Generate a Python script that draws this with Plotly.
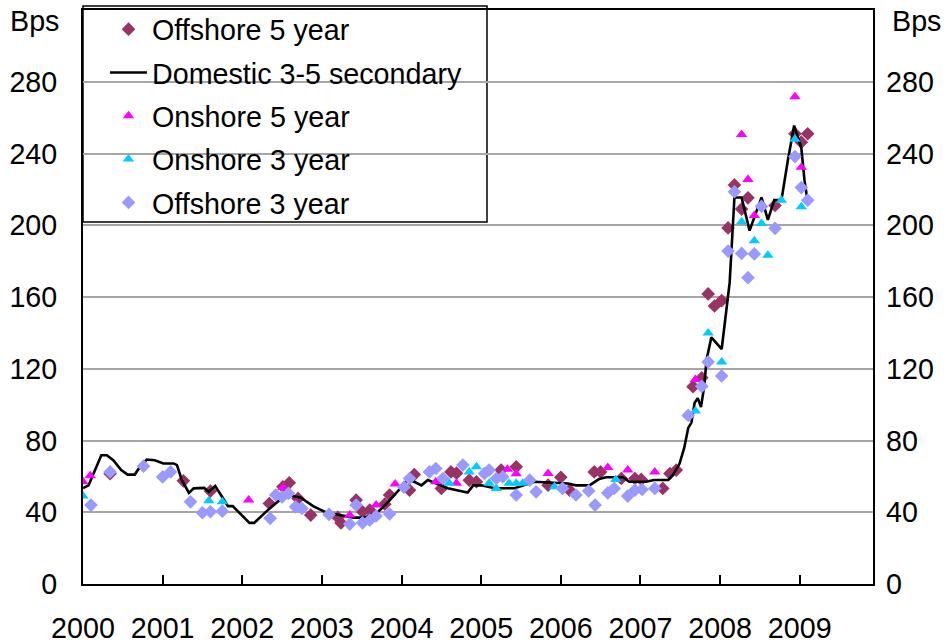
import plotly.graph_objects as go

# Spreads in basis points; x positions are decimal years
off5_x = [2000.34, 2001.26, 2001.60, 2002.34, 2002.51, 2002.59, 2002.70, 2002.86,
          2003.20, 2003.24, 2003.43, 2003.51, 2003.60, 2003.79, 2003.85, 2004.10,
          2004.16, 2004.50, 2004.62, 2004.69, 2004.85, 2004.94, 2005.25, 2005.44,
          2005.84, 2006.00, 2006.11, 2006.42, 2006.50, 2006.76, 2006.93, 2007.01,
          2007.28, 2007.37, 2007.45, 2007.66, 2007.77, 2007.85, 2007.93, 2008.02,
          2008.10, 2008.18, 2008.27, 2008.35, 2008.69, 2008.94, 2009.02, 2009.10]
off5_y = [61.5, 57.5, 51.8, 44.9, 54.2, 56.4, 47.7, 38.4,
          37.1, 34.0, 46.8, 40.3, 41.2, 44.5, 49.6, 52.3,
          61.0, 53.3, 62.5, 61.8, 57.9, 57.0, 63.5, 65.3,
          55.1, 59.5, 52.3, 62.5, 62.5, 58.8, 58.8, 58.3,
          53.3, 61.6, 63.5, 110.0, 115.0, 161.7, 155.0, 158.0,
          198.5, 222.5, 209.0, 215.3, 211.0, 251.0, 246.3, 251.0]

dom_x = [2000.00, 2000.07, 2000.23, 2000.30, 2000.38, 2000.48, 2000.56, 2000.65,
         2000.71, 2000.80, 2000.90, 2001.01, 2001.14, 2001.18, 2001.24, 2001.33,
         2001.39, 2001.52, 2001.58, 2001.66, 2001.76, 2001.82, 2001.88, 2001.99,
         2002.09, 2002.15, 2002.22, 2002.32, 2002.47, 2002.56, 2002.73, 2002.89,
         2003.06, 2003.40, 2003.53, 2003.70, 2003.83, 2003.96, 2004.08, 2004.16,
         2004.25, 2004.33, 2004.58, 2004.83, 2004.90, 2005.00, 2005.17, 2005.42,
         2005.67, 2006.09, 2006.19, 2006.36, 2006.48, 2006.57, 2006.78, 2006.86,
         2007.07, 2007.17, 2007.35, 2007.41, 2007.49, 2007.55, 2007.60, 2007.64,
         2007.68, 2007.72, 2007.76, 2007.80, 2007.83, 2007.89, 2008.02, 2008.12,
         2008.18, 2008.27, 2008.37, 2008.52, 2008.60, 2008.68, 2008.77, 2008.85,
         2008.93, 2009.02, 2009.06, 2009.09]
dom_y = [53.4, 55.0, 71.8, 71.8, 69.0, 63.5, 61.0, 61.0,
         65.0, 69.4, 69.0, 67.2, 67.2, 66.3, 58.0, 50.8,
         53.3, 53.6, 51.4, 54.6, 47.7, 43.4, 43.4, 38.4,
         34.1, 34.1, 37.1, 41.2, 46.8, 49.6, 48.3, 43.4,
         39.7, 37.0, 37.0, 40.0, 45.6, 52.0, 58.0, 57.0,
         55.0, 58.0, 53.4, 51.0, 55.0, 55.0, 53.4, 53.4,
         57.0, 56.0, 55.0, 55.0, 58.5, 59.5, 59.5, 57.0,
         57.0, 58.0, 58.0, 61.0, 67.0, 76.0, 87.0, 90.0,
         101.0, 103.6, 98.6, 110.0, 125.0, 137.5, 131.0, 168.0,
         215.5, 215.5, 197.0, 215.5, 203.0, 214.0, 214.0, 236.0,
         255.6, 243.0, 225.0, 216.0]

on5_x = [2000.00, 2000.09, 2002.08, 2002.51, 2003.35, 2003.68, 2003.92, 2004.43,
         2004.69, 2005.33, 2005.44, 2005.84, 2006.59, 2006.84, 2007.18, 2007.69,
         2008.27, 2008.35, 2008.43, 2008.94, 2009.02]
on5_y = [57.0, 60.3, 46.8, 53.8, 38.4, 44.0, 55.7, 57.0,
         56.1, 64.0, 61.5, 61.6, 65.0, 63.5, 62.5, 114.0,
         250.6, 225.5, 205.5, 271.7, 232.3]

on3_x = [2000.00, 2001.58, 2001.75, 2004.60, 2004.85, 2004.94, 2005.10, 2005.19,
         2005.35, 2005.44, 2005.52, 2005.92, 2006.69, 2007.69, 2007.85, 2008.02,
         2008.27, 2008.43, 2008.52, 2008.60, 2008.77, 2008.94, 2009.02]
on3_y = [49.0, 46.4, 45.8, 56.1, 62.5, 65.3, 56.1, 53.3,
         56.1, 56.1, 56.1, 54.2, 58.3, 96.5, 140.0, 123.8,
         202.0, 191.3, 201.0, 183.3, 214.0, 248.0, 210.3]

off3_x = [2000.10, 2000.34, 2000.76, 2001.00, 2001.10, 2001.35, 2001.50, 2001.60,
          2001.75, 2002.35, 2002.42, 2002.50, 2002.58, 2002.67, 2002.75, 2003.09,
          2003.35, 2003.43, 2003.51, 2003.60, 2003.68, 2003.85, 2004.03, 2004.10,
          2004.35, 2004.43, 2004.52, 2004.77, 2005.04, 2005.10, 2005.19, 2005.27,
          2005.44, 2005.61, 2005.69, 2006.02, 2006.19, 2006.35, 2006.43, 2006.59,
          2006.67, 2006.84, 2006.93, 2007.02, 2007.18, 2007.60, 2007.77, 2007.85,
          2008.02, 2008.10, 2008.18, 2008.27, 2008.35, 2008.43, 2008.52, 2008.69,
          2008.94, 2009.02, 2009.10]
off3_y = [44.0, 62.5, 65.7, 59.7, 62.5, 45.8, 39.7, 40.3,
          40.6, 36.6, 49.6, 48.6, 50.5, 43.0, 42.1, 38.8,
          33.4, 44.0, 34.1, 35.6, 37.9, 39.0, 54.0, 58.8,
          62.5, 64.4, 58.8, 66.3, 61.6, 63.5, 58.8, 59.7,
          49.6, 57.9, 51.4, 53.3, 49.6, 51.9, 44.0, 50.8,
          53.3, 49.0, 52.3, 52.7, 53.3, 94.0, 110.2, 123.8,
          116.0, 185.6, 218.7, 184.3, 170.8, 184.0, 210.5, 198.3,
          238.3, 221.0, 214.0]

years = list(range(2000, 2010))
year_labels = [str(y) for y in years]
y_ticks = [0, 40, 80, 120, 160, 200, 240, 280]

FONT = "Liberation Sans, Arial, sans-serif"
FS = 28.7
C_OFF5 = "#993366"
C_OFF3 = "#9999FF"
C_ON5 = "#FF00FF"
C_ON3 = "#00CCFF"

# plot area in pixels
L, R, T, B = 83, 873, 10, 584
PW, PH = R - L, B - T

fig = go.Figure()
fig.add_trace(go.Scatter(x=off5_x, y=off5_y, mode="markers", name="Offshore 5 year",
                         legendgroup="a",
                         marker=dict(symbol="diamond", size=10.5, color=C_OFF5)))
fig.add_trace(go.Scatter(x=dom_x, y=dom_y, mode="lines", name="Domestic 3-5 secondary",
                         legendgroup="b",
                         line=dict(color="black", width=2.6)))
fig.add_trace(go.Scatter(x=on5_x, y=on5_y, mode="markers", name="Onshore 5 year",
                         legendgroup="c",
                         marker=dict(symbol="triangle-up", size=10, color=C_ON5)))
fig.add_trace(go.Scatter(x=on3_x, y=on3_y, mode="markers", name="Onshore 3 year",
                         legendgroup="d",
                         marker=dict(symbol="triangle-up", size=10, color=C_ON3)))
fig.add_trace(go.Scatter(x=off3_x, y=off3_y, mode="markers", name="Offshore 3 year",
                         legendgroup="e",
                         marker=dict(symbol="diamond", size=10.5, color=C_OFF3)))
# carrier for the right-hand axis
fig.add_trace(go.Scatter(x=[years[0]], y=[y_ticks[0]], yaxis="y2", mode="markers",
                         marker=dict(opacity=0), showlegend=False, hoverinfo="skip"))

fig.update_layout(
    width=947, height=644,
    margin=dict(l=L, r=947 - R, t=T, b=644 - B, autoexpand=False),
    paper_bgcolor="white", plot_bgcolor="white",
    font=dict(family=FONT, size=FS, color="black"),
    showlegend=True,
    legend=dict(x=(105 - L) / PW, y=(B - 4) / PH, xanchor="left", yanchor="top",
                bgcolor="rgba(0,0,0,0)", borderwidth=0, itemwidth=37,
                font=dict(family=FONT, size=FS, color="black"),
                tracegroupgap=3, traceorder="grouped"),
    xaxis=dict(range=[2000, 2009.92], tickmode="array", tickvals=years, ticktext=year_labels,
               ticks="inside", ticklen=9, tickwidth=1.5, tickcolor="black",
               showline=True, linecolor="black", linewidth=2, mirror=True,
               showgrid=False, zeroline=False, ticklabelstandoff=18, automargin=False,
               tickfont=dict(family=FONT, size=FS, color="black")),
    yaxis=dict(range=[0, 320], tickmode="array", tickvals=y_ticks,
               showline=True, linecolor="black", linewidth=2, mirror=True,
               showgrid=True, gridcolor="#a6a6a6", gridwidth=1.5,
               zeroline=False, ticks="", ticklabelstandoff=18, automargin=False,
               tickfont=dict(family=FONT, size=FS, color="black")),
    yaxis2=dict(range=[0, 320], tickmode="array", tickvals=y_ticks, overlaying="y",
                side="right", showgrid=False, zeroline=False, showline=False,
                ticks="", ticklabelstandoff=12, automargin=False,
                tickfont=dict(family=FONT, size=FS, color="black")),
    shapes=[dict(type="rect", xref="paper", yref="paper",
                 x0=0.0, x1=(487 - L) / PW, y0=(B - 222) / PH, y1=(B - 6) / PH,
                 line=dict(color="black", width=1.5), fillcolor="white", layer="between")],
    annotations=[
        dict(text="Bps", xref="paper", yref="paper", x=(34 - L) / PW, y=(B - 21) / PH,
             showarrow=False, xanchor="center", yanchor="middle",
             font=dict(family=FONT, size=FS, color="black")),
        dict(text="Bps", xref="paper", yref="paper", x=(916 - L) / PW, y=(B - 21) / PH,
             showarrow=False, xanchor="center", yanchor="middle",
             font=dict(family=FONT, size=FS, color="black")),
    ],
)

fig.write_html("out.html")
